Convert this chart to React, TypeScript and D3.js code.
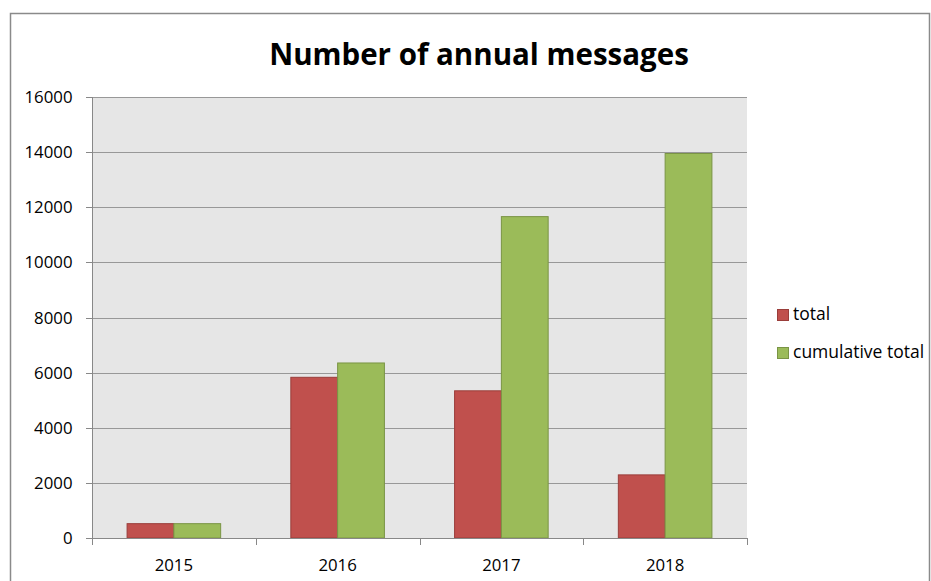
import React from "react";
import * as d3 from "d3";

const years = ["2015", "2016", "2017", "2018"];
const totalValues = [520, 5830, 5340, 2290];
const cumulativeValues = [520, 6350, 11660, 13950];
const seriesNames = ["total", "cumulative total"];
const seriesColors = ["#C0504D", "#9BBB59"];
const seriesStrokes = ["#9A3D3A", "#7A9445"];
const yTicks = [0, 2000, 4000, 6000, 8000, 10000, 12000, 14000, 16000];
const title = "Number of annual messages";

const W = 931;
const H = 581;
const plot = { left: 92, right: 747, top: 97, bottom: 538 };
const font = "'Open Sans', 'Noto Sans', sans-serif";

export default function App() {
  const x = d3.scaleBand<string>().domain(years).range([plot.left, plot.right]).padding(0);
  const xs = d3
    .scaleBand<string>()
    .domain(seriesNames)
    .range([0, x.bandwidth()])
    .paddingInner(0)
    .paddingOuter(0.75);
  const y = d3.scaleLinear().domain([0, 16000]).range([plot.bottom, plot.top]);
  const seriesData = [totalValues, cumulativeValues];
  const boundaries = [...years.map((yr) => x(yr) as number), plot.right];

  return (
    <svg
      width={W}
      height={H}
      style={{ position: "absolute", left: 0, top: 0, background: "#fff" }}
    >
      <rect x={10.5} y={13.5} width={919} height={620} fill="#fff" stroke="#8a8a8a" strokeWidth={1.5} />
      <text
        x={479}
        y={65}
        textAnchor="middle"
        fontFamily={font}
        fontWeight="bold"
        fontSize={29.5}
        fill="#000"
      >
        {title}
      </text>
      <rect
        x={plot.left}
        y={plot.top}
        width={plot.right - plot.left}
        height={plot.bottom - plot.top}
        fill="#E6E6E6"
      />
      {yTicks.map((t) => (
        <g key={t}>
          {t > 0 && (
            <line
              x1={plot.left}
              x2={plot.right}
              y1={Math.round(y(t)) + 0.5}
              y2={Math.round(y(t)) + 0.5}
              stroke="#989898"
              strokeWidth={1}
            />
          )}
          <line
            x1={86}
            x2={plot.left}
            y1={Math.round(y(t)) + 0.5}
            y2={Math.round(y(t)) + 0.5}
            stroke="#888"
            strokeWidth={1}
          />
          <text
            x={72.5}
            y={y(t)}
            dy="0.36em"
            textAnchor="end"
            fontFamily={font}
            fontSize={16.8}
            fill="#000"
          >
            {t}
          </text>
        </g>
      ))}
      {years.map((yr, i) =>
        seriesNames.map((s, j) => {
          const v = seriesData[j][i];
          const bx = (x(yr) as number) + (xs(s) as number);
          return (
            <rect
              key={yr + s}
              x={bx}
              y={y(v)}
              width={xs.bandwidth()}
              height={plot.bottom - y(v)}
              fill={seriesColors[j]}
              stroke={seriesStrokes[j]}
              strokeWidth={1}
            />
          );
        })
      )}
      <line
        x1={plot.left + 0.5}
        x2={plot.left + 0.5}
        y1={plot.top}
        y2={plot.bottom + 6}
        stroke="#888"
        strokeWidth={1}
      />
      <line
        x1={plot.left}
        x2={plot.right}
        y1={plot.bottom + 0.5}
        y2={plot.bottom + 0.5}
        stroke="#888"
        strokeWidth={1}
      />
      {boundaries.map((bx, i) => (
        <line
          key={i}
          x1={Math.round(bx) + 0.5}
          x2={Math.round(bx) + 0.5}
          y1={plot.bottom}
          y2={plot.bottom + 7}
          stroke="#888"
          strokeWidth={1}
        />
      ))}
      {years.map((yr) => (
        <text
          key={yr}
          x={(x(yr) as number) + x.bandwidth() / 2}
          y={570.5}
          textAnchor="middle"
          fontFamily={font}
          fontSize={16.8}
          fill="#000"
        >
          {yr}
        </text>
      ))}
      {seriesNames.map((s, j) => (
        <g key={s} transform={`translate(777, ${309 + j * 38})`}>
          <rect x={0.5} y={0.5} width={11} height={11} fill={seriesColors[j]} stroke={seriesStrokes[j]} strokeWidth={1} />
          <text x={16} y={11} fontFamily={font} fontSize={17.5} fill="#000">
            {s}
          </text>
        </g>
      ))}
    </svg>
  );
}
